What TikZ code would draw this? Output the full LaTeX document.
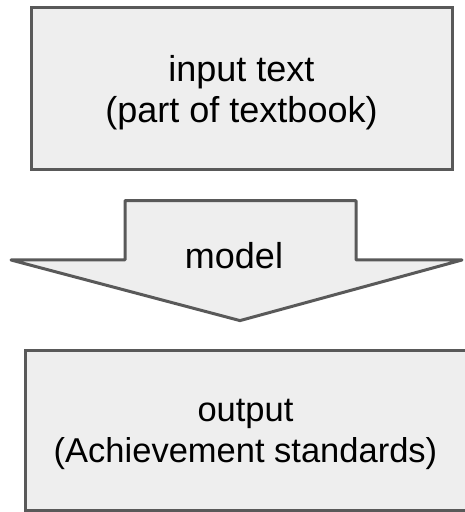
\documentclass[tikz,border=0pt]{standalone}
\usepackage{fontspec}
\setmainfont{Liberation Sans}
\usetikzlibrary{positioning}
\definecolor{boxfill}{HTML}{EEEEEE}
\definecolor{boxline}{HTML}{595959}

\begin{document}
\begin{tikzpicture}[x=1pt, y=1pt,
    stagebox/.style={draw=boxline, fill=boxfill, line width=3pt, rectangle,
        inner sep=0pt, align=center},
    flowarrow/.style={draw=boxline, fill=boxfill, line width=3pt, line join=round},
    bigtext/.style={font=\fontsize{36}{41}\selectfont},
    midtext/.style={font=\fontsize{34.5}{41}\selectfont}]
    % Page size
    \useasboundingbox (0,0) rectangle (464,512);

    % Input box
    \node[stagebox, bigtext, minimum width=421pt, minimum height=162pt,
          text depth=-5.4pt] (input) at (241.5,423)
         {input text\\(part of textbook)};

    % Big arrow (model)
    \draw[flowarrow] (125,311.3) -- (356,311.3) -- (356,252) -- (462,252)
         -- (240,191.4) -- (11,252) -- (125,252) -- cycle;
    \node[bigtext, anchor=base] (model) at (234,243.7) {model};

    % Output box
    \node[stagebox, midtext, minimum width=441pt, minimum height=160pt,
          text depth=-6.5pt] (output) at (245.5,81)
         {output\\(Achievement standards)};
\end{tikzpicture}
\end{document}
